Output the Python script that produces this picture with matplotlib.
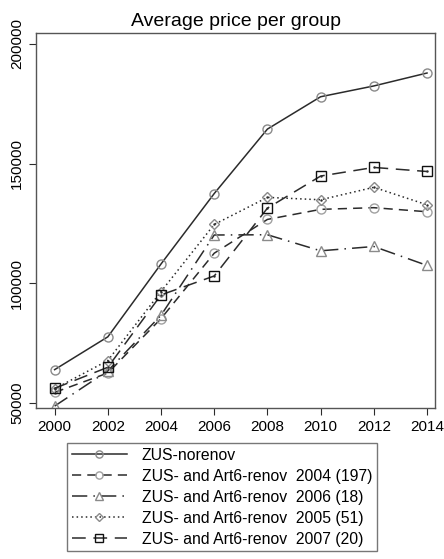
import matplotlib
import matplotlib.pyplot as plt

matplotlib.use("Agg")

plt.rcParams["font.family"] = ["Liberation Sans", "DejaVu Sans"]

years = [2000, 2002, 2004, 2006, 2008, 2010, 2012, 2014]

norenov = [64000, 77700, 108100, 137500, 164400, 177900, 182400, 187800]
renov_2004 = [54500, 62600, 85300, 112600, 126700, 130900, 131600, 129900]
renov_2006 = [48800, 63500, 86700, 120200, 120300, 113600, 115400, 107500]
renov_2005 = [56000, 67800, 96600, 124600, 135900, 134900, 140100, 132800]
renov_2007 = [56200, 65000, 95200, 103100, 131400, 144800, 148400, 146700]

labels = [
    "ZUS-norenov",
    "ZUS- and Art6-renov  2004 (197)",
    "ZUS- and Art6-renov  2006 (18)",
    "ZUS- and Art6-renov  2005 (51)",
    "ZUS- and Art6-renov  2007 (20)",
]

W, H = 444, 559
fig = plt.figure(figsize=(W / 100, H / 100), dpi=100)
ax = fig.add_axes([36 / W, 1 - 408 / H, (435 - 36) / W, (408 - 33) / H])

dark = "#2b2b2b"
grey = "#8a8a8a"

styles = [
    (norenov, dict(color=dark, ls="-", marker="o", mec=grey, ms=6.5, dot=False)),
    (renov_2004, dict(color=dark, ls=(0, (6, 4)), marker="o", mec="#a0a0a0", ms=6.5, dot=False)),
    (renov_2006, dict(color=dark, ls=(0, (10, 4, 1, 4)), marker="^", mec=grey, ms=6.5, dot=False)),
    (renov_2005, dict(color=dark, ls=(0, (1, 2)), marker="D", mec=grey, ms=5.5, dot=True)),
    (renov_2007, dict(color=dark, ls=(0, (9, 5)), marker="s", mec="#111111", ms=6.5, dot=True)),
]

handles = []
for (vals, st), lab in zip(styles, labels):
    (h,) = ax.plot(years, vals, color=st["color"], linestyle=st["ls"], linewidth=1.1,
                   marker=st["marker"], markersize=st["ms"], markerfacecolor="none",
                   markeredgecolor=st["mec"], markeredgewidth=1.0, label=lab)
    if st["dot"]:
        ax.plot(years, vals, linestyle="none", marker=".", markersize=1.5, color=dark)
    handles.append(h)

ax.set_xlim(1999.3, 2014.3)
ax.set_ylim(48000, 204500)
ax.set_xticks(years)
ax.set_yticks([50000, 100000, 150000, 200000])
ax.tick_params(axis="both", labelsize=11, direction="out", length=5, color=dark)
for lab in ax.get_yticklabels():
    lab.set_rotation(90)
    lab.set_va("center")
for s in ax.spines.values():
    s.set_color("#555555")
    s.set_linewidth(1.0)

ax.set_title("Average price per group", fontsize=14, pad=5)

leg = fig.legend(handles=handles, loc="upper left",
                 bbox_to_anchor=(67 / W, 1 - 443 / H), borderaxespad=0,
                 fontsize=11.3, frameon=True, fancybox=False, handlelength=3.5,
                 handletextpad=0.95, labelspacing=0.38, borderpad=0.3, markerscale=0.8)
leg.get_frame().set_edgecolor("#555555")
leg.get_frame().set_linewidth(1.0)

fig.savefig("out.png", dpi=100)
